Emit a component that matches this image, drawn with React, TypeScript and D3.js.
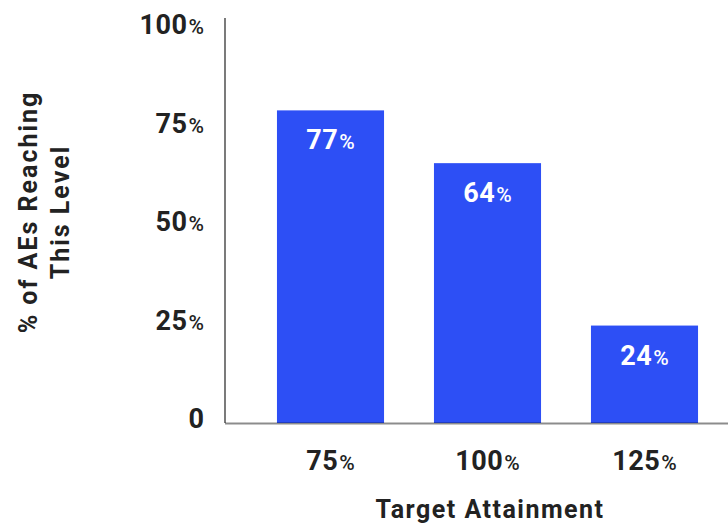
import React from "react";
import * as d3 from "d3";

const categories = ["75", "100", "125"];
const values = [77, 64, 24];
const yTicks = [0, 25, 50, 75, 100];

const W = 728;
const H = 524;
const FONT = "Roboto, 'Liberation Sans', Arial, sans-serif";
const INK = "#222";

export default function App() {
  const x = d3
    .scaleBand<string>()
    .domain(categories)
    .range([225, 750])
    .paddingInner(0.318)
    .paddingOuter(0.331);
  const y = d3.scaleLinear().domain([0, 100]).range([423, 17]);
  const yLabel = d3.scaleLinear().domain([0, 100]).range([418, 24]);

  const pct = (v: number | string) => (
    <>
      <tspan fontSize={27} fontWeight={700} letterSpacing={0.5}>{v}</tspan>
      <tspan fontSize={21} fontWeight={500} dx={1}>%</tspan>
    </>
  );

  return (
    <svg width={W} height={H} style={{ position: "absolute", left: 0, top: 0, background: "#fff" }} fontFamily={FONT}>
      {values.map((v, i) => (
        <rect
          key={i}
          x={x(categories[i])}
          y={y(v)}
          width={x.bandwidth()}
          height={y(0) - y(v)}
          fill="#2d4ff5"
        />
      ))}
      {values.map((v, i) => (
        <text
          key={"l" + i}
          x={(x(categories[i]) as number) + x.bandwidth() / 2}
          y={y(v) + 39}
          textAnchor="middle"
          fill="#fff"
        >
          {pct(v)}
        </text>
      ))}
      <line x1={225} x2={225} y1={18} y2={423} stroke="#222" strokeWidth={1.2} />
      <line x1={225} x2={728} y1={423.5} y2={423.5} stroke="rgba(0,0,0,0.45)" strokeWidth={2} />
      {yTicks.map((t) => (
        <text key={t} x={204} y={yLabel(t) + 10} textAnchor="end" fill={INK}>
          {t === 0 ? <tspan fontSize={27} fontWeight={700}>0</tspan> : pct(t)}
        </text>
      ))}
      {categories.map((c) => (
        <text
          key={c}
          x={(x(c) as number) + x.bandwidth() / 2}
          y={470}
          textAnchor="middle"
          fill={INK}
        >
          {pct(c)}
        </text>
      ))}
      <text x={490} y={518} textAnchor="middle" fontSize={25} fontWeight={700} letterSpacing={1.5} fill={INK}>
        Target Attainment
      </text>
      <g transform="translate(44,212) rotate(-90)">
        <text x={0} y={-7} textAnchor="middle" fontSize={25} fontWeight={700} letterSpacing={2} fill={INK}>
          % of AEs Reaching
        </text>
        <text x={0} y={25} textAnchor="middle" fontSize={25} fontWeight={700} letterSpacing={2} fill={INK}>
          This Level
        </text>
      </g>
    </svg>
  );
}
